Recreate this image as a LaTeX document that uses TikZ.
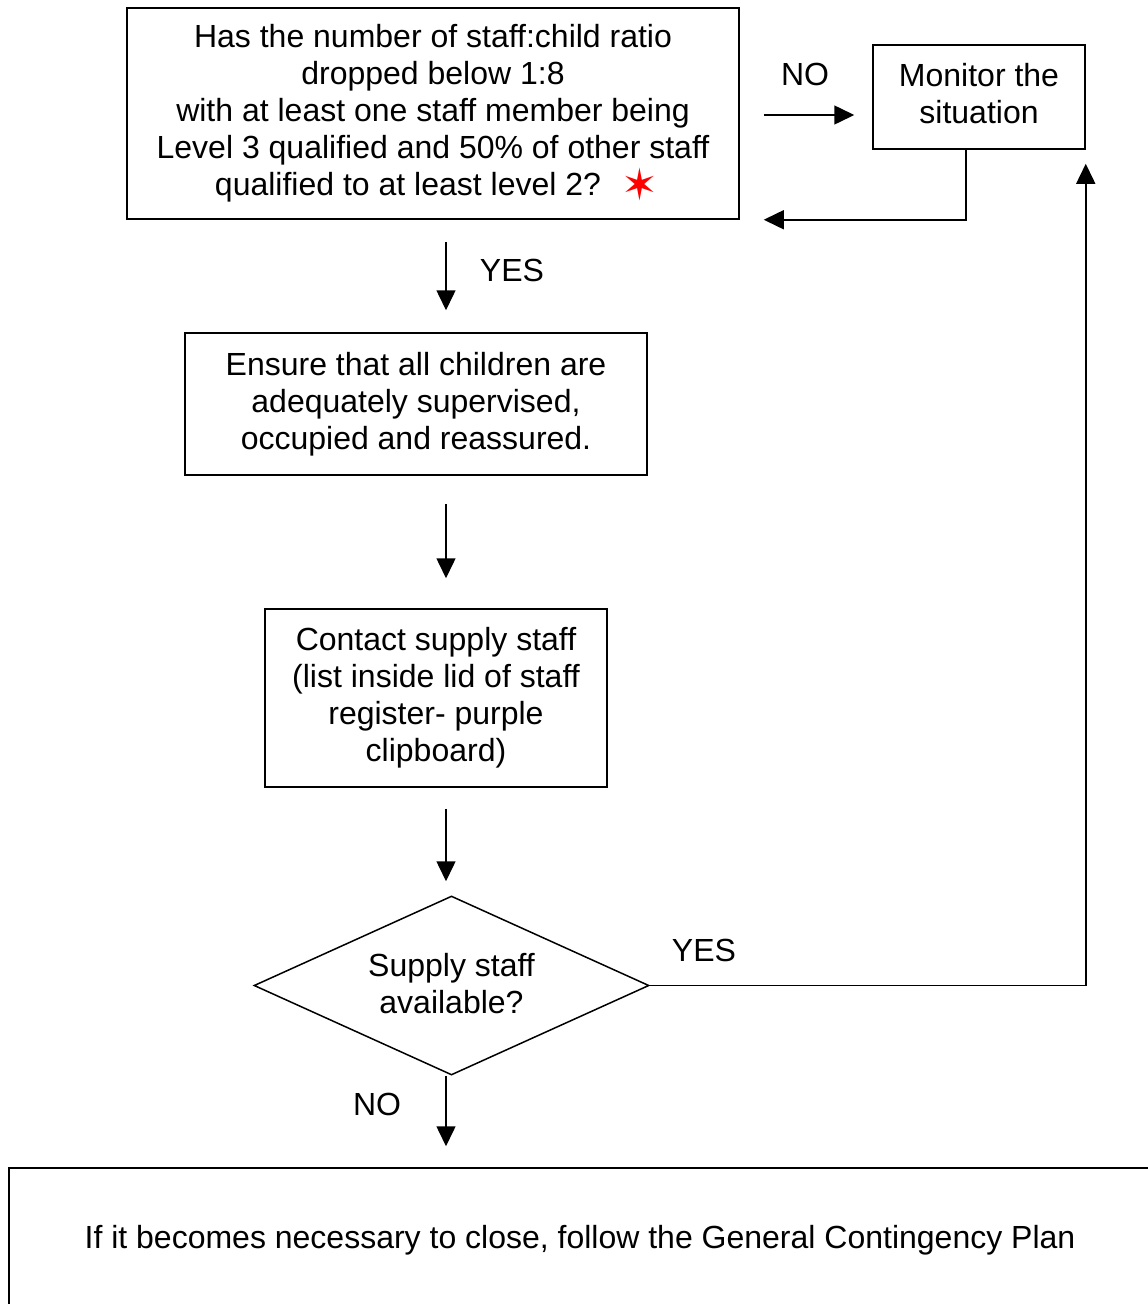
\documentclass[tikz,border=0pt]{standalone}
\usepackage{fontspec}
\setmainfont{Liberation Sans}
\newfontfamily\symfont{DejaVu Sans}
\usetikzlibrary{arrows.meta,shapes.geometric}
% centred lines raised by #1 in a box #2 wide, keeping the box's extents
\newcommand{\liftlines}[3]{\raisebox{#1}[\height][\depth]{\parbox{#2}{\centering #3}}}
\begin{document}
\begin{tikzpicture}[x=1pt,y=-1pt,
  every node/.style={font=\fontsize{32}{37}\selectfont},
  box/.style={draw,line width=1.5pt,align=center,inner sep=0pt},
  arr/.style={line width=1.5pt,-{Triangle[length=20pt,width=19pt]}},
  lbl/.style={inner sep=0pt}]
\clip (0,0) rectangle (1148,1304);
\fill[white] (0,0) rectangle (1148,1304);

% process boxes
\node[box,minimum width=612pt,minimum height=211pt] (q) at (433,113.5)
  {Has the number of staff:child ratio\\dropped below 1:8\\with at least one staff member being\\Level 3 qualified and 50\% of other staff\\qualified to at least level 2?\hspace{50pt}\mbox{}};
\node[lbl,text=red] (star) at (640,184) {\symfont\fontsize{44}{44}\selectfont ✶};
\node[box,minimum width=212pt,minimum height=104pt] (mon) at (979,97)
  {\liftlines{3pt}{180pt}{Monitor the\\situation}};
\node[box,minimum width=462pt,minimum height=142pt] (sup) at (416,404)
  {Ensure that all children are\\adequately supervised,\\occupied and reassured.};
\node[box,minimum width=342pt,minimum height=178pt] (call) at (436,698)
  {Contact supply staff\\(list inside lid of staff\\register- purple\\clipboard)};
\node[draw,line width=1.5pt,diamond,aspect=2.2,inner sep=0pt,align=center,
  minimum width=395pt,minimum height=179pt] (dia) at (451.5,985.5)
  {\liftlines{2pt}{200pt}{Supply staff\\available?}};
\node[box,minimum width=1142pt,minimum height=138pt] (close) at (580,1237)
  {\raisebox{-3pt}[\height][\depth]{If it becomes necessary to close, follow the General Contingency Plan}};

% helper coordinates for the connector lines
\coordinate (ax) at (446,0);
\coordinate (noy) at (0,115);
\coordinate (backx) at (966,0);

% connectors
\draw[arr,shorten <=24pt,shorten >=18pt] (q.east |- noy) -- (mon.west |- noy);
\draw[arr] (mon.south -| backx) |- ([xshift=24pt]q.south east);
\draw[arr,shorten <=22pt,shorten >=22pt] (q.south -| ax) -- (sup.north -| ax);
\draw[arr,shorten <=28pt,shorten >=30pt] (sup.south -| ax) -- (call.north -| ax);
\draw[arr,shorten <=21pt,shorten >=14pt] (call.south -| ax) -- (dia.north -| ax);
\draw[arr,shorten >=14pt] (dia.east) -| (mon.south east);
\draw[arr,shorten >=21pt] (dia.south -| ax) -- (close.north -| ax);

% branch labels
\node[lbl] (no1) at (805,74) {NO};
\node[lbl] (yes1) at (512,270) {YES};
\node[lbl] (yes2) at (704,950) {YES};
\node[lbl] (no2) at (377,1104) {NO};
\end{tikzpicture}
\end{document}
